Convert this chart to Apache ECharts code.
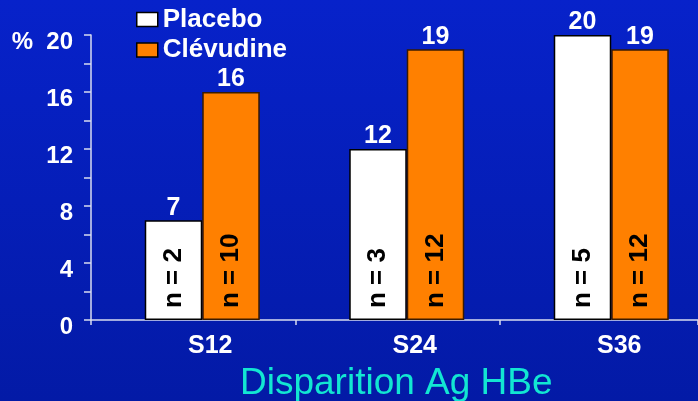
<!DOCTYPE html>
<html>
<head>
<meta charset="utf-8">
<script src="https://cdn.jsdelivr.net/npm/echarts@6/dist/echarts.min.js"></script>
<style>
  html, body { margin: 0; padding: 0; }
  #chart { width: 698px; height: 401px; }
</style>
</head>
<body>
<div id="chart"></div>
<script>
// Weeks of treatment and the share of patients (%) who lost HBe antigen
const categories = ['S12', 'S24', 'S36'];
const placebo = [7, 12, 20];
const clevudine = [16, 19, 19];
// Number of patients behind each bar
const placeboN = [2, 3, 5];
const clevudineN = [10, 12, 12];
const yTicks = [0, 4, 8, 12, 16, 20];

const FONT = 'Liberation Sans, Arial, sans-serif';
const chart = echarts.init(document.getElementById('chart'), null, { renderer: 'canvas' });

const AXIS_COLOR = '#d8dcf0';
const gridBox = { left: 91, top: 35, right: 0, bottom: 81 };
// Plot width in px and the horizontal space taken by one week group
const plotWidth = 698 - gridBox.left - gridBox.right;
const groupWidth = 204.5;
// Group centres sit a little to the right of the middle of each tick band
const groupOffset = 111.25;
const xMin = -groupOffset / groupWidth;
const xMax = xMin + plotWidth / groupWidth;

// Pair each group index with its value for the value-type x axis
const toPoints = arr => arr.map((v, i) => [i, v]);

// Rotated "n = …" text sitting near the foot of a bar
function nLabel(counts) {
  return {
    show: true,
    position: 'insideBottom',
    rotate: 90,
    align: 'left',
    verticalAlign: 'middle',
    distance: 12,
    color: '#000',
    fontFamily: FONT,
    fontWeight: 'bold',
    fontSize: 26,
    formatter: p => 'n = ' + counts[p.dataIndex]
  };
}

const valueLabel = {
  show: true, position: 'top', distance: 0,
  color: '#fff', fontSize: 25, fontWeight: 'bold', fontFamily: FONT
};

const barX = (gridIndex, showLabels) => ({
  gridIndex, type: 'value', min: xMin, max: xMax,
  axisLine: { show: false }, axisTick: { show: false }, splitLine: { show: false },
  axisLabel: showLabels ? {
    color: '#fff', fontSize: 25, fontWeight: 'bold', fontFamily: FONT,
    margin: 14, padding: [0, 0, 0, 16],
    customValues: [0, 1, 2],
    formatter: v => categories[Math.round(v)]
  } : { show: false }
});
const hiddenY = gridIndex => ({ gridIndex, type: 'value', min: 0, max: 20, interval: 4, show: false });

const option = {
  backgroundColor: {
    type: 'linear', x: 0, y: 0, x2: 0, y2: 1,
    colorStops: [
      { offset: 0, color: '#0722CA' },
      { offset: 1, color: '#031AA6' }
    ]
  },
  textStyle: { fontFamily: FONT },
  animation: false,
  title: {
    text: 'Disparition Ag HBe',
    left: 235,
    top: 360,
    textStyle: { color: '#12E6D2', fontSize: 37, fontWeight: 'normal', fontFamily: FONT }
  },
  legend: {
    orient: 'vertical',
    left: 131,
    top: 1.5,
    icon: 'rect',
    itemWidth: 21,
    itemHeight: 14,
    itemGap: 4.5,
    itemTextGap: 8,
    itemStyle: { borderColor: '#000', borderWidth: 1.5 },
    textStyle: { color: '#fff', fontSize: 26, fontWeight: 'bold', fontFamily: FONT },
    data: ['Placebo', 'Clévudine']
  },
  grid: [gridBox, gridBox, gridBox],
  xAxis: [
    {
      // Axis line with a tick at the edge of each week group
      gridIndex: 0, type: 'value', min: 0, max: plotWidth / groupWidth, interval: 1,
      axisLine: { show: true, onZero: false, lineStyle: { color: AXIS_COLOR, width: 1.5 } },
      axisTick: { show: true, length: 5, lineStyle: { color: AXIS_COLOR, width: 1.5 } },
      splitLine: { show: false },
      axisLabel: { show: false }
    },
    barX(1, true),
    barX(2, false)
  ],
  yAxis: [
    {
      gridIndex: 0, type: 'value', min: 0, max: 20, interval: 4,
      axisLine: { show: true, lineStyle: { color: AXIS_COLOR, width: 1.5 } },
      axisTick: { show: true, length: 7, lineStyle: { color: AXIS_COLOR, width: 1.5 } },
      minorTick: { show: true, splitNumber: 2, length: 7, lineStyle: { color: AXIS_COLOR, width: 1.5 } },
      splitLine: { show: false },
      axisLabel: {
        color: '#fff', fontSize: 24, fontWeight: 'bold', fontFamily: FONT,
        margin: 18,
        customValues: yTicks,
        formatter: v => '{t|' + (v === 20 ? '%  ' + v : String(v)) + '}',
        rich: {
          t: { color: '#fff', fontSize: 24, fontWeight: 'bold', fontFamily: FONT, padding: [14, 0, 0, 0] }
        }
      }
    },
    hiddenY(1),
    hiddenY(2)
  ],
  series: [
    {
      name: 'Placebo', type: 'bar', xAxisIndex: 1, yAxisIndex: 1,
      data: toPoints(placebo), barWidth: 57.5, barGap: '0%',
      itemStyle: { color: '#ffffff', borderColor: '#000', borderWidth: 1.5 },
      label: valueLabel
    },
    {
      name: 'Clévudine', type: 'bar', xAxisIndex: 1, yAxisIndex: 1,
      data: toPoints(clevudine), barWidth: 57.5, barGap: '0%',
      itemStyle: { color: '#FF8000', borderColor: '#3a1a00', borderWidth: 1.5 },
      label: valueLabel
    },
    // Transparent overlay bars carrying the patient counts
    {
      name: 'nPlacebo', type: 'bar', xAxisIndex: 2, yAxisIndex: 2,
      data: toPoints(placebo), barWidth: 57.5, barGap: '0%', silent: true,
      itemStyle: { color: 'rgba(0,0,0,0)' },
      label: nLabel(placeboN)
    },
    {
      name: 'nClevudine', type: 'bar', xAxisIndex: 2, yAxisIndex: 2,
      data: toPoints(clevudine), barWidth: 57.5, barGap: '0%', silent: true,
      itemStyle: { color: 'rgba(0,0,0,0)' },
      label: nLabel(clevudineN)
    }
  ]
};

chart.setOption(option);
</script>
</body>
</html>
